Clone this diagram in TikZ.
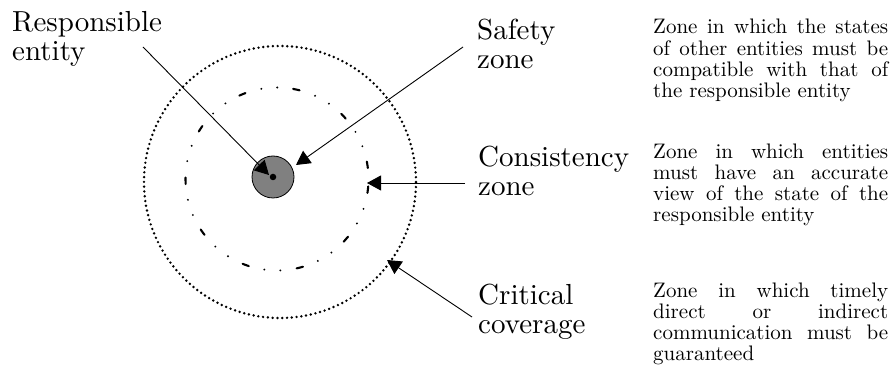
\documentclass[tikz,border=0pt]{standalone}
\usepackage{fontspec}
\newfontfamily\lmten{lmroman10-regular}[Extension=.otf]
\usetikzlibrary{arrows.meta}
\begin{document}
\begin{tikzpicture}[x=1pt,y=1pt,
  biglabel/.style={anchor=north west,inner sep=0pt,align=left,font=\lmten\fontsize{29}{29}\selectfont},
  desc/.style={anchor=north west,inner sep=0pt,text width=235pt,align=justify,font=\lmten\fontsize{21}{21}\selectfont},
  pointer/.style={line width=0.9pt,-{Triangle[length=14pt,width=15pt]}},
  outerzone/.style={draw,line width=2.7pt,line cap=round,dash pattern=on 0pt off 4.8pt},
  innerzone/.style={draw,line width=2.1pt,line cap=round,dash pattern=on 6.5pt off 16pt on 0pt off 16pt on 0pt off 16.5pt,dash phase=44pt},
  entity/.style={circle,draw,fill=black!50,line width=0.8pt,minimum size=42pt,inner sep=0pt}
]
\useasboundingbox (0,0) rectangle (892,367);
% zones
\draw[outerzone] (280,185) circle[radius=136];
\draw[innerzone] (277,188) circle[radius=91.5];
\node[entity] (ent) at (273,190) {};
\node[circle,fill=black,minimum size=6.5pt,inner sep=0pt] (dot) at (ent.center) {};
% labels
\node[biglabel] (lresp) at (12,356.3) {\strut Responsible\\entity};
\node[biglabel] (lsafe) at (477,348.3) {\strut Safety\\zone};
\node[biglabel] (lcons) at (478,221.3) {\strut Consistency\\zone};
\node[biglabel] (lcrit) at (478,83.3) {\strut Critical\\coverage};
% descriptions
\node[desc] (dsafe) at (653,348.7) {\strut Zone in which the states\linebreak of other entities must be\linebreak compatible with that of\linebreak the responsible entity};
\node[desc] (dcons) at (653,223.7) {\strut Zone in which entities\linebreak must have an accurate\linebreak view of the state of the\linebreak responsible entity};
\node[desc] (dcrit) at (653,84.7) {\strut Zone in which timely\linebreak direct or indirect\linebreak communication must be\linebreak guaranteed};
% pointers
\coordinate (sresp) at (143,320);
\coordinate (tresp) at (269,192);
\coordinate (ssafe) at (463,320);
\coordinate (tsafe) at (296,202);
\coordinate (scons) at (465,184);
\coordinate (tcons) at (367,184);
\coordinate (scrit) at (472,50);
\coordinate (tcrit) at (387,107);
\draw[pointer] (sresp) -- (tresp);
\draw[pointer] (ssafe) -- (tsafe);
\draw[pointer] (scons) -- (tcons);
\draw[pointer] (scrit) -- (tcrit);
\end{tikzpicture}
\end{document}
